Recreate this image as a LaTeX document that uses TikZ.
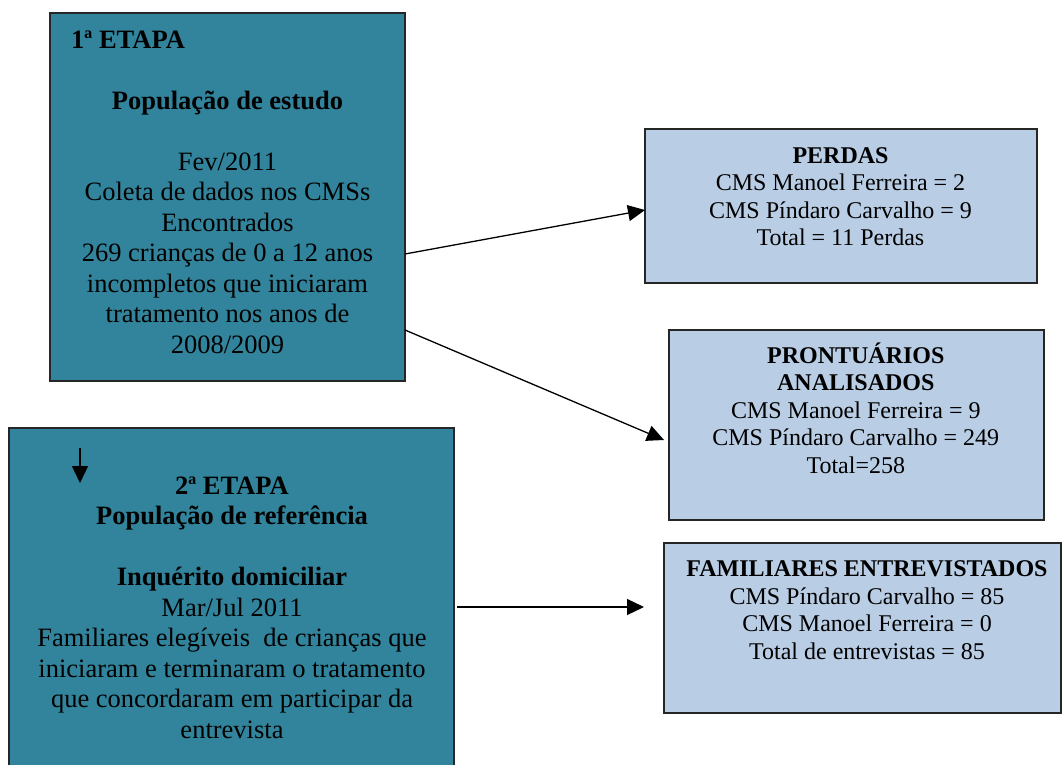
\documentclass[tikz,border=0pt]{standalone}
\usepackage{fontspec}
\setmainfont{Liberation Serif}
\usetikzlibrary{arrows.meta}
\definecolor{teal1}{HTML}{31849B}
\definecolor{light1}{HTML}{B9CDE5}
\tikzset{
  darkbox/.style={draw=black!85, line width=1.6pt, fill=teal1, inner sep=0, outer sep=0},
  lightbox/.style={draw=black!85, line width=1.6pt, fill=light1, inner sep=0, outer sep=0},
  bigtxt/.style={inner sep=0, align=center, font=\fontsize{26.5}{30.5}\selectfont},
  smalltxt/.style={inner sep=0, align=center, font=\fontsize{24}{27.5}\selectfont},
  conn/.style={line width=1.3pt, -{Triangle[length=17pt,width=16pt]}},
}
\newcommand{\bstrut}{\rule{0pt}{20pt}}
\newcommand{\sstrut}{\rule{0pt}{19pt}}
\begin{document}
\begin{tikzpicture}[x=1pt,y=-1pt]
\useasboundingbox (0,0) rectangle (1062,765);
% boxes
\node[darkbox, minimum width=355pt, minimum height=368pt] (b1) at (227.5,197) {};
\node[darkbox, minimum width=445pt, minimum height=362pt] (b2) at (231.5,609) {};
\node[lightbox, minimum width=392pt, minimum height=154pt] (perdas) at (841,206) {};
\node[lightbox, minimum width=375pt, minimum height=190pt] (pront) at (856.5,425) {};
\node[lightbox, minimum width=397pt, minimum height=170pt] (fam) at (862.5,628) {};
% texts
\node[bigtxt, anchor=north west] (t1a) at (71,28) {\bstrut\textbf{1ª ETAPA}};
\node[bigtxt, anchor=north] (t1b) at (227.5,89) {\bstrut\textbf{População de estudo}\\[30.5pt]
Fev/2011\\ Coleta de dados nos CMSs\\ Encontrados\\ 269 crianças de 0 a 12 anos\\ incompletos que iniciaram\\ tratamento nos anos de\\ 2008/2009};
\node[bigtxt, anchor=north] (t2) at (232,474) {\bstrut\textbf{2ª ETAPA}\\ \textbf{População de referência}\\[30.5pt]
\textbf{Inquérito domiciliar}\\ Mar/Jul 2011\\ Familiares elegíveis~ de crianças que\\ iniciaram e terminaram o tratamento\\ que concordaram em participar da\\ entrevista};
\node[smalltxt, anchor=north] (tp) at (840.5,144) {\sstrut\textbf{PERDAS}\\ CMS Manoel Ferreira = 2\\ CMS Píndaro Carvalho = 9\\ Total = 11 Perdas};
\node[smalltxt, anchor=north] (tr) at (855.8,342.7) {\sstrut\textbf{PRONTUÁRIOS}\\ \textbf{ANALISADOS}\\ CMS Manoel Ferreira = 9\\ CMS Píndaro Carvalho = 249\\ Total=258};
\node[smalltxt, anchor=north] (tf) at (867,557.7) {\sstrut\textbf{FAMILIARES ENTREVISTADOS}\\ CMS Píndaro Carvalho = 85\\ CMS Manoel Ferreira = 0\\ Total de entrevistas = 85};
% connector coordinates
\coordinate (y254) at (0,254);
\coordinate (y210) at (0,210);
\coordinate (y330) at (0,330);
\coordinate (t2tip) at (664,440);
\coordinate (s3) at (457,607);
\coordinate (e3) at (644,607);
\coordinate (sd) at (80,448);
\coordinate (ed) at (80,483);
% connectors
\draw[conn] (b1.east |- y254) -- (perdas.west |- y210);
\draw[conn] (b1.east |- y330) -- (t2tip);
\draw[conn] (s3) -- (e3);
\draw[conn] (sd) -- (ed);
\end{tikzpicture}
\end{document}
